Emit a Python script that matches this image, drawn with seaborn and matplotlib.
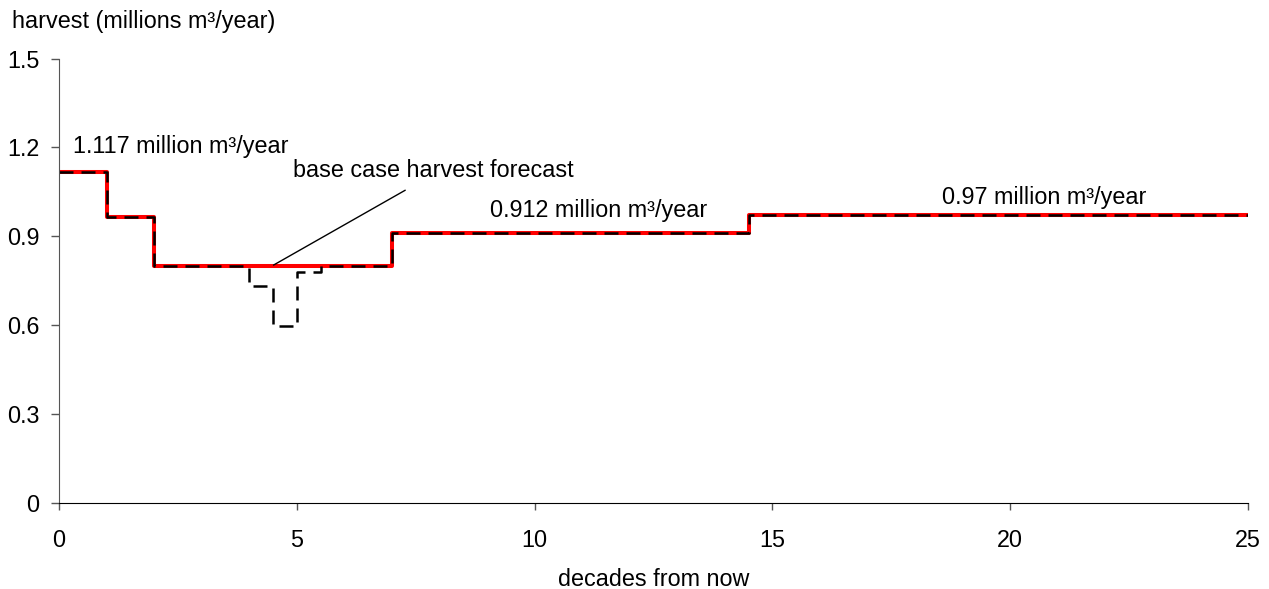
import matplotlib
matplotlib.use("Agg")
import matplotlib.pyplot as plt
import seaborn as sns
import pandas as pd

# Data
base_decades = [0, 1, 2, 7, 14.5, 25]
base_harvest = [1.117, 0.965, 0.80, 0.912, 0.97, 0.97]
alt_decades = [0, 1, 2, 4, 4.5, 5, 5.5, 7, 14.5, 25]
alt_harvest = [1.117, 0.965, 0.80, 0.73, 0.595, 0.78, 0.80, 0.912, 0.97, 0.97]
y_ticks = [0, 0.3, 0.6, 0.9, 1.2, 1.5]
y_tick_labels = ["0", "0.3", "0.6", "0.9", "1.2", "1.5"]
x_ticks = [0, 5, 10, 15, 20, 25]
labels = ["1.117 million m³/year", "0.912 million m³/year", "0.97 million m³/year"]

sns.set_style("ticks")
plt.rcParams["font.family"] = ["Liberation Sans", "DejaVu Sans"]
plt.rcParams["text.color"] = "black"
FS = 16.8

fig = plt.figure(figsize=(12.69, 5.89), dpi=100)
ax = fig.add_axes([59 / 1269, 1 - 502.5 / 589, (1248 - 59) / 1269, (502.5 - 58.5) / 589])

base_df = pd.DataFrame({"decade": base_decades, "harvest": base_harvest})
alt_df = pd.DataFrame({"decade": alt_decades, "harvest": alt_harvest})

sns.lineplot(data=base_df, x="decade", y="harvest", ax=ax, color="#ff0000",
             linewidth=2.9, drawstyle="steps-post", estimator=None, sort=False)
sns.lineplot(data=alt_df, x="decade", y="harvest", ax=ax, color="black",
             linewidth=1.8, drawstyle="steps-post", estimator=None, sort=False,
             dashes=False, linestyle=(0, (5.6, 3.2)))

ax.set_xlim(0, 25)
ax.set_ylim(0, 1.5)
ax.set_yticks(y_ticks)
ax.set_yticklabels(y_tick_labels)
ax.set_xticks(x_ticks)
ax.set_xticklabels([str(t) for t in x_ticks])
ax.set_xlabel("")
ax.set_ylabel("")

sns.despine(ax=ax)
ax.spines["left"].set_color("#555555")
ax.spines["bottom"].set_color("black")
ax.tick_params(axis="y", colors="#555555", labelcolor="black", length=5.5, width=1,
               direction="out", pad=8.5, labelsize=FS)
ax.tick_params(axis="x", colors="#555555", labelcolor="black", length=5, width=1,
               direction="out", pad=14, labelsize=FS)

# annotations
ax.text(0.295, 1.180, labels[0], fontsize=FS, va="baseline", ha="left", color="black")
ax.text(9.06, 0.965, labels[1], fontsize=FS, va="baseline", ha="left", color="black")
ax.text(18.56, 1.008, labels[2], fontsize=FS, va="baseline", ha="left", color="black")
ax.text(4.93, 1.100, "base case harvest forecast", fontsize=FS, va="baseline",
        ha="left", color="black")
ax.annotate("", xy=(4.51, 0.802), xytext=(7.28, 1.055),
            arrowprops=dict(arrowstyle="-", color="black", lw=1.0, shrinkA=0, shrinkB=0))

fig.text(11.7 / 1269, 1 - 28 / 589, "harvest (millions m³/year)", fontsize=FS,
         va="baseline", ha="left", color="black")
fig.text(653.5 / 1269, 1 - 585.5 / 589, "decades from now", fontsize=FS,
         va="baseline", ha="center", color="black")

fig.savefig("out.png", dpi=100)
